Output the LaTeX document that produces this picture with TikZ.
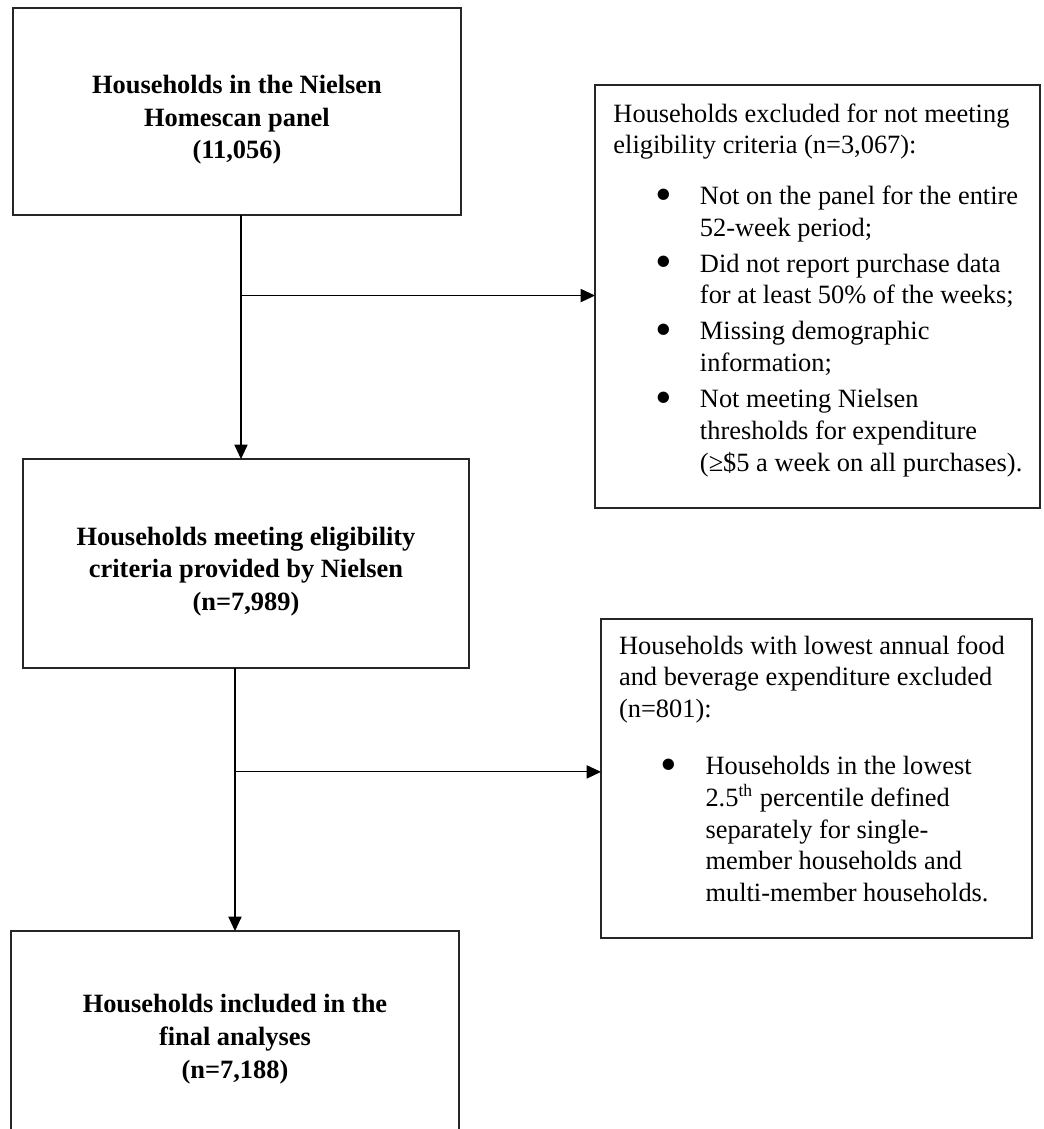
\documentclass[tikz,border=0pt]{standalone}
\usepackage{fontspec}
\setmainfont{Liberation Serif}
\usetikzlibrary{positioning,calc,arrows.meta}

\tikzset{
	mainbox/.style={draw=black!85, line width=0.7pt, rectangle, anchor=north west, inner sep=0pt, outer sep=0pt, font=\fontsize{12}{14.8}\selectfont\bfseries},
	sidebox/.style={draw=black!85, line width=0.7pt, rectangle, anchor=north west, inner sep=0pt, outer sep=0pt, font=\fontsize{12}{14.4}\selectfont},
	flowarrow/.style={line width=0.5pt, -{Triangle[length=6.5pt,width=6pt]}}
}
\newcommand{\bitem}[1]{\par\vspace{2pt}\hangindent=39.3pt\hangafter=1\noindent\hspace*{19pt}\makebox[20.3pt][l]{\raisebox{-2.6pt}{\scalebox{1.8}{\textbullet}}}#1}

\begin{document}
\begin{tikzpicture}[x=0.4545pt,y=-0.4545pt]
			\useasboundingbox (0,0) rectangle (1043,1129);
			\clip (0,0) rectangle (1043,1129);
			
			% main column
			\node[mainbox] (panel) at (13,8) {\parbox[c][94.1pt][c]{203.6pt}{\centering\vspace*{7.7pt}Households in the Nielsen\\Homescan panel\\(11,056)}};
			\node[mainbox] (eligible) at (23,459) {\parbox[c][95pt][c]{202.7pt}{\centering\vspace*{7.2pt}Households meeting eligibility\\criteria provided by Nielsen\\(n=7,989)}};
			\node[mainbox] (final) at (11,931) {\parbox[c][97.3pt][c]{203.6pt}{\centering\vspace*{1pt}Households included in the\\final analyses\\(n=7,188)}};
			
			% exclusions
			\node[sidebox] (notmet) at (595,85) {\parbox[t][192.3pt][t]{202.3pt}{\raggedright\leftskip=8.4pt\vspace*{8.5pt}%
					Households excluded for not meeting\newline
					eligibility criteria (n=3,067):\par\vspace{6.5pt}
					\bitem{Not on the panel for the entire\newline 52-week period;}
					\bitem{Did not report purchase data\newline for at least 50\% of the weeks;}
					\bitem{Missing demographic\newline information;}
					\bitem{Not meeting Nielsen\newline thresholds for expenditure\newline (≥\$5 a week on all purchases).}\par}};
			\node[sidebox] (lowest) at (601,619) {\parbox[t][145pt][t]{195.9pt}{\raggedright\leftskip=8.2pt\vspace*{7.6pt}%
					Households with lowest annual food\newline
					and beverage expenditure excluded\newline
					(n=801):\par\vspace{9.5pt}
					\bitem{Households in the lowest\newline 2.5\textsuperscript{th} percentile defined\newline separately for single-\newline member households and\newline multi-member households.}\par}};
			
			% branch points
			\coordinate (drop1) at ($(panel.south)+(4,0)$);
			\coordinate (split1) at ($(drop1)!0.33!(drop1 |- eligible.north)$);
			\coordinate (split2) at ($(final.north |- eligible.south)!0.395!(final.north)$);
			
			% connectors
			\draw[flowarrow] (drop1) -- (drop1 |- eligible.north);
			\draw[flowarrow] (split1) -- (split1 -| notmet.west);
			\draw[flowarrow] (final.north |- eligible.south) -- (final.north);
			\draw[flowarrow] (split2) -- (split2 -| lowest.west);
		\end{tikzpicture}
\end{document}
